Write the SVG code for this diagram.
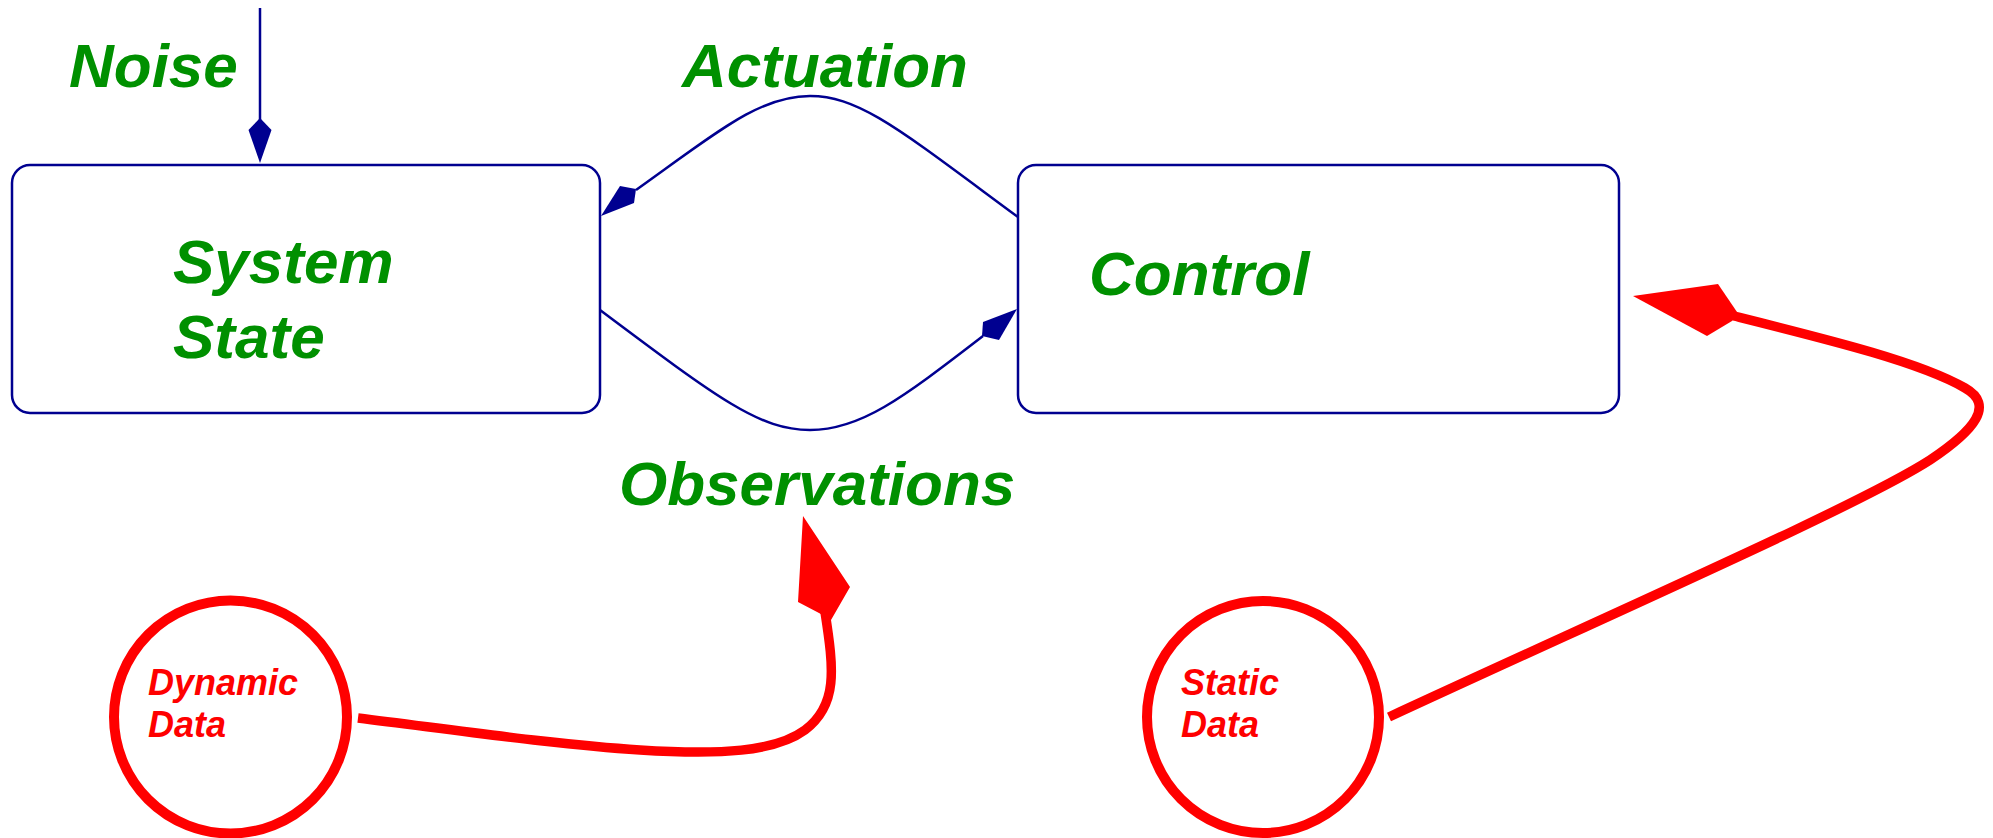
<svg xmlns="http://www.w3.org/2000/svg" width="1993" height="838" viewBox="0 0 1993 838">
<style>
.box{fill:#ffffff;stroke:#000090;stroke-width:2.5}
.bl{fill:none;stroke:#000090;stroke-width:2.5}
.bh{fill:#000090;stroke:none}
.rl{fill:none;stroke:#ff0000;stroke-width:9.5}
.rh{fill:#ff0000;stroke:none}
.circ{fill:#ffffff;stroke:#ff0000;stroke-width:10}
.g{font-family:"Liberation Sans",Arial,sans-serif;font-weight:bold;font-style:italic;font-size:62px;fill:#009000}
.r{font-family:"Liberation Sans",Arial,sans-serif;font-weight:bold;font-style:italic;font-size:36px;fill:#ff0000}
</style>
<rect width="1993" height="838" fill="#ffffff"/>
<g id="system-state">
<rect class="box" x="12" y="165" width="588" height="248" rx="18" ry="18"/>
<text class="g" x="173" y="283">System</text>
<text class="g" x="173" y="358">State</text>
</g>
<g id="control">
<rect class="box" x="1018" y="165" width="601" height="248" rx="18" ry="18"/>
<text class="g" x="1089" y="295">Control</text>
</g>
<g id="dynamic-data">
<circle class="circ" cx="230.5" cy="717" r="116.5"/>
<text class="r" x="148" y="695">Dynamic</text>
<text class="r" x="148" y="737">Data</text>
</g>
<g id="static-data">
<circle class="circ" cx="1263" cy="717" r="116"/>
<text class="r" x="1181" y="695">Static</text>
<text class="r" x="1181" y="737">Data</text>
</g>
<g id="labels">
<text class="g" x="69" y="87">Noise</text>
<text class="g" x="682" y="87">Actuation</text>
<text class="g" x="619" y="505">Observations</text>
</g>
<g id="connectors">
<line class="bl" x1="260" y1="8" x2="260" y2="125"/>
<polygon class="bh" points="260,163 271.5,130 260,118 248.5,130"/>
<path class="bl" d="M1018,217 C900,130 860,96 810,96 C760,96 720,130 636,190"/>
<polygon class="bh" points="601,216 620,186 636,189 634,203"/>
<path class="bl" d="M600,310 C720,400 760,430 810,430 C860,430 900,400 983,336"/>
<polygon class="bh" points="1017,309 983,322 982,336 999,340"/>
<path class="rl" d="M358,718 C470,732 560,745 640,750 C720,755 775,752 805,730 C838,705 834,670 825,612"/>
<polygon class="rh" points="803,516 850,587 831,620 819,613 798,602"/>
<path class="rl" d="M1389,717 C1620,610 1860,505 1930,460 C1975,430 1995,405 1965,388 C1920,362 1830,340 1730,315"/>
<polygon class="rh" points="1633,296 1718,284 1737,312 1732,321 1707,336"/>
</g>
</svg>
